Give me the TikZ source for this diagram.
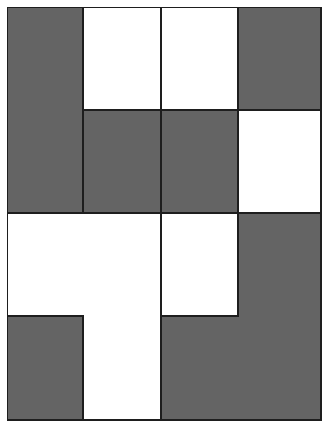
\documentclass[tikz,border=0pt]{standalone}
\definecolor{shade}{RGB}{100,100,100}
\definecolor{edge}{RGB}{30,30,30}
\tikzset{
  darkcell/.style={fill=shade, draw=edge, line width=1.3pt, line join=miter},
  lightcell/.style={fill=white, draw=edge, line width=1.3pt, line join=miter}
}
\begin{document}
\begin{tikzpicture}[x=1pt,y=-1pt]
\useasboundingbox (0,0) rectangle (326,424);
\fill[white] (0,0) rectangle (326,424);
% dark regions
\draw[darkcell] (7.5,7.5) rectangle (83,213);
\draw[darkcell] (83,110) rectangle (161,213);
\draw[darkcell] (161,110) rectangle (238,213);
\draw[darkcell] (238,7.5) rectangle (321,110);
\draw[darkcell] (7.5,316) rectangle (83,420);
\draw[darkcell] (238,213) -- (321,213) -- (321,420) -- (161,420) -- (161,316) -- (238,316) -- cycle;
% light regions
\draw[lightcell] (83,7.5) rectangle (161,110);
\draw[lightcell] (161,7.5) rectangle (238,110);
\draw[lightcell] (238,110) rectangle (321,213);
\draw[lightcell] (161,213) rectangle (238,316);
\draw[lightcell] (7.5,213) -- (161,213) -- (161,420) -- (83,420) -- (83,316) -- (7.5,316) -- cycle;
% outer frame
\draw[edge, line width=1.3pt] (7.5,7.5) rectangle (321,420);
\end{tikzpicture}
\end{document}
